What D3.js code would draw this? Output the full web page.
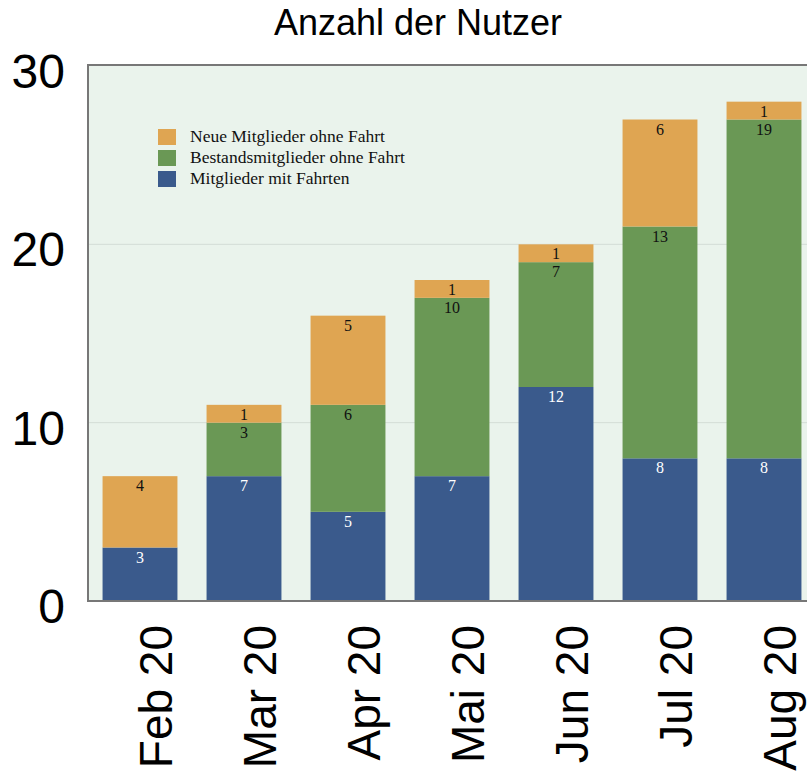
<!DOCTYPE html>
<html>
<head>
<meta charset="utf-8">
<script src="https://cdn.jsdelivr.net/npm/d3@7"></script>
<style>
  body { margin: 0; background: #fff; }
  svg { display: block; }
</style>
</head>
<body>
<div class="visualisation"></div>
<script>
// Chart data
const months = ["Feb 20", "Mar 20", "Apr 20", "Mai 20", "Jun 20", "Jul 20", "Aug 20"];
const mitFahrten = [3, 7, 5, 7, 12, 8, 8];
const bestandOhne = [0, 3, 6, 10, 7, 13, 19];
const neuOhne = [4, 1, 5, 1, 1, 6, 1];
const seriesNames = ["Mitglieder mit Fahrten", "Bestandsmitglieder ohne Fahrt", "Neue Mitglieder ohne Fahrt"];
const yTicks = [0, 10, 20, 30];

const width = 807;
const height = 774;
const plot = { left: 88, top: 65, right: 807, bottom: 601 };
const colors = ["#3a5a8c", "#6a9855", "#dfa552"];
const labelColors = ["#fff", "#111", "#111"];

const rows = months.map((m, i) => ({
    month: m,
    s0: mitFahrten[i],
    s1: bestandOhne[i],
    s2: neuOhne[i]
}));

const stack = d3.stack().keys(["s0", "s1", "s2"]);
const layers = stack(rows);

const svg = d3.select(".visualisation")
    .append("svg")
    .attr("width", width)
    .attr("height", height);

const x = d3.scaleBand()
    .domain(months)
    .range([plot.left, plot.left + 7 * 104])
    .paddingInner(0.28)
    .paddingOuter(0.14);

const y = d3.scaleLinear()
    .domain([0, 30])
    .range([plot.bottom, plot.top + 1]);

// plot background
svg.append("rect")
    .attr("x", plot.left)
    .attr("y", plot.top)
    .attr("width", plot.right - plot.left)
    .attr("height", plot.bottom - plot.top)
    .attr("fill", "#eaf3ec");

// grid lines
svg.append("g")
    .selectAll("line")
    .data(yTicks.filter(d => d > 0 && d < 30))
    .enter()
    .append("line")
    .attr("x1", plot.left)
    .attr("x2", plot.right)
    .attr("y1", d => y(d))
    .attr("y2", d => y(d))
    .attr("stroke", "#d3ddd6")
    .attr("stroke-width", 1);

// bars
const layerG = svg.append("g")
    .selectAll("g")
    .data(layers)
    .enter()
    .append("g")
    .attr("fill", (d, i) => colors[i]);

layerG.selectAll("rect")
    .data(d => d.filter(s => s[1] - s[0] > 0))
    .enter()
    .append("rect")
    .attr("x", d => x(d.data.month))
    .attr("width", x.bandwidth())
    .attr("y", d => y(d[1]))
    .attr("height", d => y(d[0]) - y(d[1]));

// value labels
layers.forEach((layer, li) => {
    svg.append("g")
        .selectAll("text")
        .data(layer.filter(s => s[1] - s[0] > 0))
        .enter()
        .append("text")
        .attr("x", d => x(d.data.month) + x.bandwidth() / 2)
        .attr("y", d => y(d[1]) + 15)
        .attr("text-anchor", "middle")
        .attr("font-family", "'Liberation Serif', 'Times New Roman', serif")
        .attr("font-size", 16)
        .attr("fill", labelColors[li])
        .text(d => d[1] - d[0]);
});

// frame
svg.append("path")
    .attr("d", `M${plot.right},${plot.top}H${plot.left}V${plot.bottom}H${plot.right}`)
    .attr("fill", "none")
    .attr("stroke", "#777")
    .attr("stroke-width", 2);

// y axis labels
svg.append("g")
    .selectAll("text")
    .data(yTicks)
    .enter()
    .append("text")
    .attr("x", 65)
    .attr("y", d => y(d) + 22)
    .attr("text-anchor", "end")
    .attr("font-family", "'Liberation Sans', Arial, sans-serif")
    .attr("font-size", 48)
    .attr("fill", "#000")
    .text(d => d);

// x axis labels
svg.append("g")
    .selectAll("text")
    .data(months)
    .enter()
    .append("text")
    .attr("transform", d => `translate(${x(d) + x.bandwidth() / 2 + 32},${plot.bottom + 24}) rotate(-90)`)
    .attr("text-anchor", "end")
    .attr("font-family", "'Liberation Sans', Arial, sans-serif")
    .attr("font-size", 46)
    .attr("fill", "#000")
    .text(d => d);

// title
svg.append("text")
    .attr("x", 418)
    .attr("y", 35)
    .attr("text-anchor", "middle")
    .attr("font-family", "'Liberation Sans', Arial, sans-serif")
    .attr("font-size", 36)
    .attr("fill", "#000")
    .text("Anzahl der Nutzer");

// legend (top entry first)
const legendOrder = [2, 1, 0];
const legend = svg.append("g")
    .attr("transform", "translate(158,129)");

legend.selectAll("rect")
    .data(legendOrder)
    .enter()
    .append("rect")
    .attr("x", 0)
    .attr("y", (d, i) => i * 21)
    .attr("width", 18)
    .attr("height", 16)
    .attr("fill", d => colors[d]);

legend.selectAll("text")
    .data(legendOrder)
    .enter()
    .append("text")
    .attr("x", 32)
    .attr("y", (d, i) => i * 21 + 13)
    .attr("font-family", "'Liberation Serif', 'Times New Roman', serif")
    .attr("font-size", 17.5)
    .attr("fill", "#111")
    .text(d => seriesNames[d]);
</script>
</body>
</html>
